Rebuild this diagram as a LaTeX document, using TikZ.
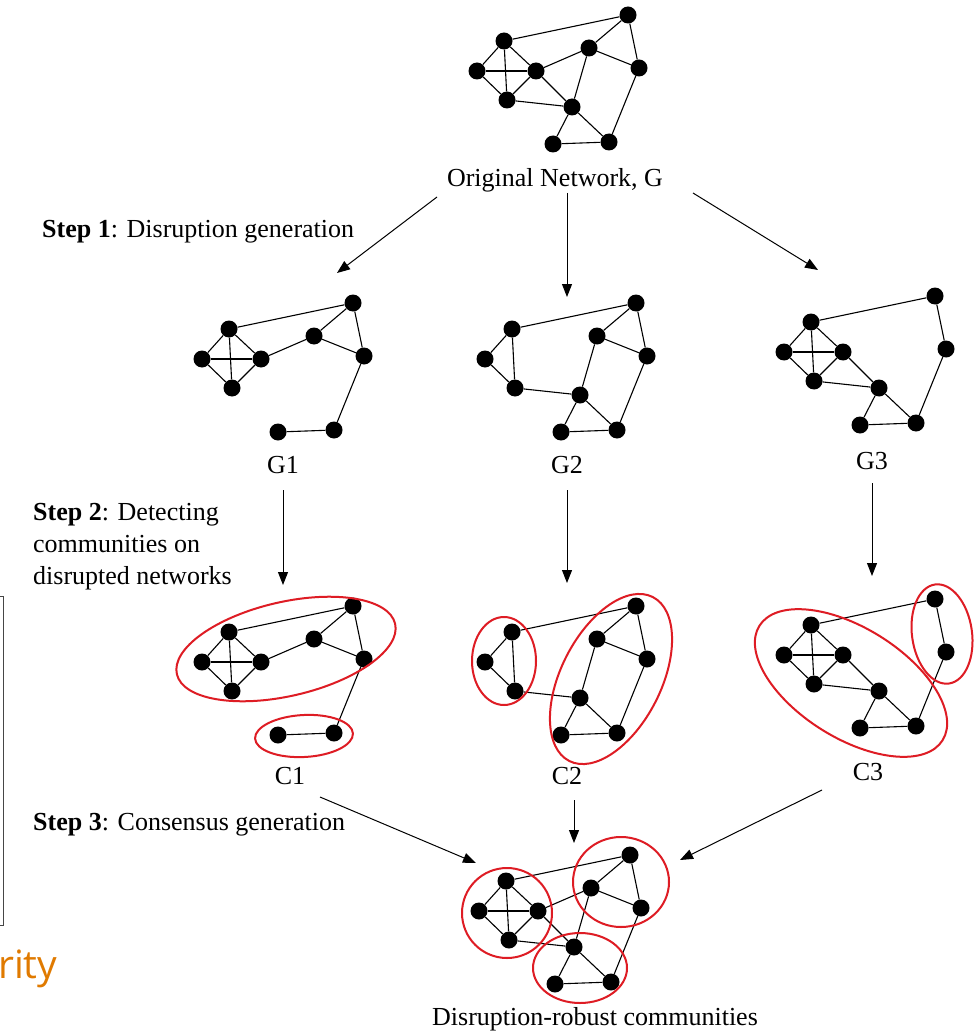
\documentclass[tikz,border=0pt]{standalone}
\usepackage{fontspec}
\setmainfont{Liberation Serif}
\newfontfamily\orangefont{Open Sans}
\usetikzlibrary{arrows.meta}
\definecolor{commred}{RGB}{222,28,36}
\definecolor{titleorange}{RGB}{224,122,0}
\definecolor{boxgray}{RGB}{70,70,70}
\tikzset{
  dot/.style={circle,fill=black,inner sep=0pt,minimum size=17pt},
  edge/.style={draw=black,line width=1.1pt},
  arr/.style={draw=black,line width=1pt,-{Triangle[length=13pt,width=10pt]}},
  comm/.style={draw=commred,line width=2pt},
  lbl/.style={font=\fontsize{26}{30}\selectfont,inner sep=0pt},
  steptxt/.style={font=\fontsize{26}{32}\selectfont,inner sep=0pt,anchor=west,align=left},
}
% node lists
\def\Lfull{a/628/15,b/504/41,c/589/48,d/477/71,e/536/71,f/639/68,g/507/100,h/572/107,i/553/144,j/609/142}
\def\LnoH{a/628/15,b/504/41,c/589/48,d/477/71,e/536/71,f/639/68,g/507/100,i/553/144,j/609/142}
\def\LnoE{a/628/15,b/504/41,c/589/48,d/477/71,f/639/68,g/507/100,h/572/107,i/553/144,j/609/142}
\def\LnoC{a/628/15,b/504/41,d/477/71,e/536/71,f/639/68,g/507/100,h/572/107,i/553/144,j/609/142}
% edge lists
\def\Efull{a/b,a/c,a/f,c/f,c/e,c/h,b/d,b/e,b/g,d/e,d/g,e/g,e/h,g/h,h/i,h/j,i/j,f/j}
\def\EnoH{a/b,a/c,a/f,c/f,c/e,b/d,b/e,b/g,d/e,d/g,e/g,i/j,f/j}
\def\EnoE{a/b,a/c,a/f,c/f,c/h,b/d,b/g,d/g,g/h,h/i,h/j,i/j,f/j}
\def\EnoC{a/b,a/f,b/d,b/e,b/g,d/e,d/g,e/g,e/h,g/h,h/i,h/j,i/j,f/j}
\newcommand\drawpanel[5]{%
  \begin{scope}[shift={(#2,#3)}]
    \foreach \n/\px/\py in #4 {\node[dot] (#1-\n) at (\px,\py) {};}
    \foreach \u/\v in #5 {\draw[edge] (#1-\u) -- (#1-\v);}
  \end{scope}}
\begin{document}
\begin{tikzpicture}[x=1pt,y=-1pt]
\useasboundingbox (0,0) rectangle (976,1032);
\fill[white] (0,0) rectangle (976,1032);

% graphs
\drawpanel{G}{0}{0}{\Lfull}{\Efull}
\drawpanel{GA}{-275}{288}{\LnoH}{\EnoH}
\drawpanel{GB}{8}{288}{\LnoE}{\EnoE}
\drawpanel{GC}{307}{281}{\LnoC}{\EnoC}
\drawpanel{CA}{-275}{591}{\LnoH}{\EnoH}
\drawpanel{CB}{8}{591}{\LnoE}{\EnoE}
\drawpanel{CC}{307}{584}{\LnoC}{\EnoC}
\drawpanel{F}{2}{840}{\Lfull}{\Efull}

% communities
\draw[comm, rotate around={13:(286,649)}] (286,649) ellipse [x radius=112, y radius=47];
\draw[comm, rotate around={3:(304,736)}] (304,736) ellipse [x radius=49, y radius=21];
\draw[comm] (504,661) ellipse [x radius=32, y radius=44];
\draw[comm, rotate around={63:(611,679)}] (611,679) ellipse [x radius=92, y radius=50];
\draw[comm, rotate around={-32:(851,683)}] (851,683) ellipse [x radius=108, y radius=55];
\draw[comm, rotate around={8:(942,634)}] (942,634) ellipse [x radius=30, y radius=50];
\draw[comm] (507,913) ellipse [x radius=45, y radius=45];
\draw[comm] (621,882) ellipse [x radius=48, y radius=45];
\draw[comm] (580,968) ellipse [x radius=47, y radius=35];

% labels
\node[lbl] (lG) at (555,180) {Original Network, G};
\node[lbl] (lG1) at (283,465) {G1};
\node[lbl] (lG2) at (567,465) {G2};
\node[lbl] (lG3) at (872,461) {G3};
\node[lbl] (lC1) at (290,776) {C1};
\node[lbl] (lC2) at (567,776) {C2};
\node[lbl] (lC3) at (868,772) {C3};
\node[lbl] (lF) at (595,1019) {Disruption-robust communities};

\node[steptxt] (step1) at (42,232) {\textbf{Step 1}: Disruption generation};
\node[steptxt] (step2) at (33,547) {\textbf{Step 2}: Detecting\\communities on\\disrupted networks};
\node[steptxt] (step3) at (33,825) {\textbf{Step 3}: Consensus generation};

% arrow end points
\coordinate (s1) at (437,197); \coordinate (e1) at (337,273);
\coordinate (s2) at (567,193); \coordinate (e2) at (567,297);
\coordinate (s3) at (693,193); \coordinate (e3) at (818,270);
\coordinate (s4) at (283,490); \coordinate (e4) at (283,585);
\coordinate (s5) at (567,490); \coordinate (e5) at (567,583);
\coordinate (s6) at (872,483); \coordinate (e6) at (872,576);
\coordinate (s7) at (320,797); \coordinate (e7) at (476,863);
\coordinate (s8) at (574,800); \coordinate (e8) at (574,843);
\coordinate (s9) at (822,790); \coordinate (e9) at (680,860);
\foreach \k in {1,...,9} {\draw[arr] (s\k) -- (e\k);}

% left-edge remnants
\draw[boxgray, line width=1pt] (0,596) -- (3,596) -- (3,925) -- (0,925);
\node[anchor=base west, inner sep=0pt, text=titleorange,
      font=\orangefont\fontsize{39}{40}\selectfont] (rity) at (-2,978) {rity};
\end{tikzpicture}
\end{document}
